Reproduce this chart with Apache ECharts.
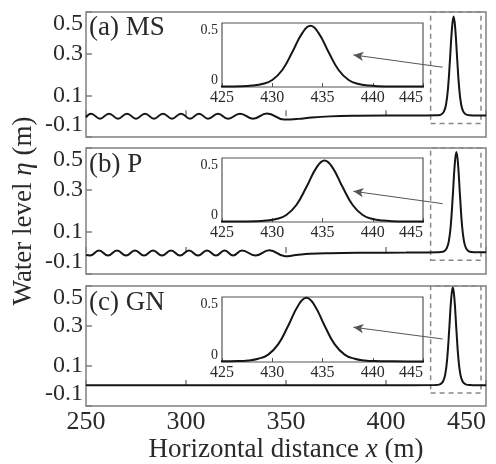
<!DOCTYPE html>
<html>
<head>
<meta charset="utf-8">
<script src="https://cdn.jsdelivr.net/npm/echarts@6/dist/echarts.min.js"></script>
<style>html,body{margin:0;padding:0;background:#fff}#c{width:496px;height:464px}</style>
</head>
<body>
<div id="c"></div>
<script>
// ---- data ----
const panelLabels = ['(a) MS', '(b) P', '(c) GN'];
const mainXTicks = [250, 300, 350, 400, 450];
const mainYTicks = [-0.1, 0.1, 0.3, 0.5];
const insetXTicks = [425, 430, 435, 440, 445];
const insetYTicks = [0, 0.5];

const aX = [250, 252.5, 257, 261.5, 266, 270.5, 275, 279.5, 284, 288.5, 293, 297.5, 302, 306.5, 311, 316, 321, 327, 333.5, 340.5, 349, 356, 363, 372, 385, 400, 415,
  425, 427, 428, 429, 430, 431, 432, 433, 433.8, 434.6, 435.6, 436.6, 437.6, 438.6, 439.6, 440.6, 442, 445, 450];
const aY = [-0.006, 0.012, -0.012, 0.012, -0.012, 0.012, -0.012, 0.012, -0.012, 0.012, -0.012, 0.012, -0.012, 0.012, -0.012, 0.012, -0.012, 0.012, -0.012, 0.013, -0.016, -0.013, -0.006, -0.001, 0.002, 0.003, 0.003,
  0.004, 0.006, 0.011, 0.023, 0.055, 0.133, 0.273, 0.423, 0.478, 0.423, 0.273, 0.133, 0.055, 0.023, 0.011, 0.006, 0.004, 0.003, 0.003];

const bX = [250, 252, 256.5, 261, 265.5, 270, 274.5, 279, 283.5, 288, 292.5, 297, 301.5, 306, 310.5, 315, 319.3, 323.6, 328, 334.8, 341.7, 349.5, 355, 362, 372, 390, 410,
  426, 428.4, 429.4, 430.4, 431.4, 432.4, 433.4, 434.4, 435.2, 436, 437, 438, 439, 440, 441, 442, 443.6, 446, 450];
const bY = [-0.01, -0.012, 0.012, -0.012, 0.012, -0.012, 0.012, -0.012, 0.012, -0.012, 0.012, -0.012, 0.012, -0.012, 0.012, -0.012, 0.012, -0.012, 0.012, -0.012, 0.013, -0.015, -0.01, -0.004, -0.001, 0.001, 0.002,
  0.004, 0.006, 0.011, 0.023, 0.055, 0.133, 0.273, 0.425, 0.481, 0.425, 0.273, 0.133, 0.055, 0.023, 0.011, 0.006, 0.004, 0.003, 0.003];

const cX = [250, 300, 350, 400, 424.6, 426.6, 427.6, 428.6, 429.6, 430.6, 431.6, 432.6, 433.4, 434.2, 435.2, 436.2, 437.2, 438.2, 439.2, 440.2, 442, 445, 450];
const cY = [0.004, 0.004, 0.004, 0.004, 0.005, 0.007, 0.012, 0.025, 0.057, 0.137, 0.281, 0.437, 0.494, 0.437, 0.281, 0.137, 0.057, 0.025, 0.012, 0.007, 0.005, 0.004, 0.004];

// zoom box and arrow (data coordinates of the main panels)
const zoomBox = [[422.3, -0.035], [447.5, 0.5]];
const arrowFrom = [428.3, 0.235];
const arrowTo = [383.7, 0.294];

// ---- chart ----
const FONT = '"Liberation Serif", "Times New Roman", serif';
const TXT = '#2a2a2a';
const FRAME = '#808080';
const LINE = '#151515';
const mainTops = [12, 148, 286];
const mainH = [125, 126, 126];
const insetTops = [23, 158, 297];
const insetH = [64, 64, 65];
const xs = [aX, bX, cX], ys = [aY, bY, cY];

const grid = [], xAxis = [], yAxis = [], series = [], graphic = [];
for (let i = 0; i < 3; i++) {
  grid.push({left: 86, width: 400, top: mainTops[i], height: mainH[i], show: true, borderColor: FRAME, borderWidth: 1.5, backgroundColor: 'transparent'});
}
for (let i = 0; i < 3; i++) {
  grid.push({left: 222, width: 201, top: insetTops[i], height: insetH[i], show: true, borderColor: '#555', borderWidth: 1.2, backgroundColor: '#fff'});
}
for (let i = 0; i < 3; i++) {
  xAxis.push({
    type: 'value', gridIndex: i, min: mainXTicks[0], max: mainXTicks[mainXTicks.length - 1], interval: 50,
    axisLine: {show: false}, splitLine: {show: false},
    axisTick: {show: true, inside: true, length: 6, lineStyle: {color: FRAME, width: 1.5}},
    axisLabel: {show: i === 2, color: TXT, fontFamily: FONT, fontSize: 26, margin: 3, alignMaxLabel: 'right'},
    name: i === 2 ? 'Horizontal distance {i|x} (m)' : '',
    nameLocation: 'middle', nameGap: 30,
    nameTextStyle: {color: TXT, fontFamily: FONT, fontSize: 27,
      rich: {i: {fontStyle: 'italic', fontFamily: FONT, fontSize: 27, color: TXT}}}
  });
  yAxis.push({
    type: 'value', gridIndex: i, min: mainYTicks[0], max: mainYTicks[mainYTicks.length - 1], interval: 0.2,
    axisLine: {show: false}, splitLine: {show: false},
    axisTick: {show: true, inside: true, length: 6, lineStyle: {color: FRAME, width: 1.5}},
    axisLabel: {color: TXT, fontFamily: FONT, fontSize: 24, margin: 3,
      formatter: v => v.toFixed(1), verticalAlignMaxLabel: 'top', verticalAlignMinLabel: 'bottom'}
  });
}
for (let i = 0; i < 3; i++) {
  xAxis.push({
    type: 'value', gridIndex: 3 + i, min: insetXTicks[0], max: insetXTicks[insetXTicks.length - 1], interval: 5,
    axisLine: {show: false}, splitLine: {show: false},
    axisTick: {show: true, inside: true, length: 4, lineStyle: {color: '#555'}},
    axisLabel: {color: TXT, fontFamily: FONT, fontSize: 16, margin: 3, alignMaxLabel: 'right'}
  });
  yAxis.push({
    type: 'value', gridIndex: 3 + i, min: insetYTicks[0], max: insetYTicks[1], interval: 0.5,
    axisLine: {show: false}, splitLine: {show: false}, axisTick: {show: false},
    axisLabel: {color: TXT, fontFamily: FONT, fontSize: 14, margin: 4,
      formatter: v => (v === 0 ? '0' : String(v)), verticalAlignMaxLabel: 'top', verticalAlignMinLabel: 'bottom'}
  });
}
for (let i = 0; i < 3; i++) {
  const data = xs[i].map((x, k) => [x, ys[i][k]]);
  series.push({
    type: 'line', xAxisIndex: i, yAxisIndex: i, data, showSymbol: false, smooth: 0.45,
    lineStyle: {color: LINE, width: 2}, animation: false, silent: true, z: 3,
    markArea: {silent: true, itemStyle: {color: 'transparent', borderColor: '#888', borderWidth: 1.5, borderType: [5, 4]},
      data: [[{coord: zoomBox[0]}, {coord: zoomBox[1]}]]},
    markLine: {silent: true, symbol: ['none', 'arrow'], symbolSize: [7, 10], label: {show: false},
      lineStyle: {color: '#555', width: 1, type: 'solid'}, animation: false,
      data: [[{coord: arrowFrom}, {coord: arrowTo}]]}
  });
  series.push({
    type: 'line', xAxisIndex: 3 + i, yAxisIndex: 3 + i, data, showSymbol: false, smooth: 0.45,
    lineStyle: {color: LINE, width: 2}, animation: false, silent: true, z: 5
  });
}
const labelTops = [14, 151, 289];
for (let i = 0; i < 3; i++) {
  graphic.push({type: 'text', left: 89, top: labelTops[i], z: 10,
    style: {text: panelLabels[i], font: '27px ' + FONT, fill: TXT}});
}
graphic.push({type: 'text', x: 24, y: 211, rotation: Math.PI / 2, z: 10,
  style: {text: '{n|Water level }{i|η}{n| (m)}', align: 'center', verticalAlign: 'middle',
    textAlign: 'center', textVerticalAlign: 'middle', fill: TXT,
    rich: {n: {font: '27px ' + FONT, fill: TXT}, i: {font: 'italic 27px ' + FONT, fill: TXT}}}});

const chart = echarts.init(document.getElementById('c'), null, {renderer: 'canvas'});
chart.setOption({animation: false, grid, xAxis, yAxis, series, graphic});
</script>
</body>
</html>
